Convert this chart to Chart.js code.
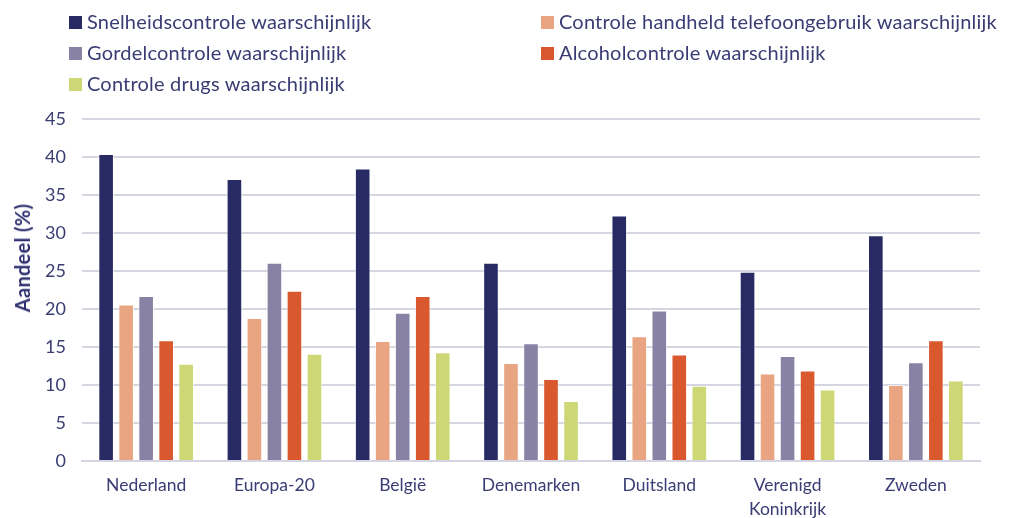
<!DOCTYPE html>
<html>
<head>
<meta charset="utf-8">
<script src="https://cdn.jsdelivr.net/npm/chart.js@4/dist/chart.umd.min.js"></script>
<style>
  html, body { margin: 0; padding: 0; background: #fff; }
  #wrap { position: relative; width: 1013px; height: 518px; }
  #chart { position: absolute; left: 0; top: 0; }
  .leg { position: absolute; font-family: "Lato", "Open Sans", sans-serif; font-size: 20px; letter-spacing: 0.2px; color: #3a3c74; white-space: nowrap; line-height: 22px; }
  .leg span.box { display: inline-block; width: 13px; height: 13px; margin-right: 5px; vertical-align: 0px; }
  #ytitle { position: absolute; left: 22px; top: 258px; transform: translate(-50%, -50%) rotate(-90deg); font-family: "Lato", "Open Sans", sans-serif; font-weight: bold; font-size: 20px; color: #2f3170; white-space: nowrap; letter-spacing: 0.3px; }
</style>
</head>
<body>
<div id="wrap">
  <canvas id="chart" width="1013" height="518"></canvas>
  <div id="legend"></div>
  <div id="ytitle"></div>
</div>
<script>
const categories = ["Nederland", "Europa-20", "België", "Denemarken", "Duitsland", ["Verenigd", "Koninkrijk"], "Zweden"];
const seriesNames = [
  "Snelheidscontrole waarschijnlijk",
  "Controle handheld telefoongebruik waarschijnlijk",
  "Gordelcontrole waarschijnlijk",
  "Alcoholcontrole waarschijnlijk",
  "Controle drugs waarschijnlijk"
];
const snelheid = [40.4, 37.1, 38.5, 26.1, 32.3, 24.9, 29.7];
const telefoon = [20.6, 18.8, 15.8, 12.9, 16.4, 11.5, 10.0];
const gordel   = [21.7, 26.1, 19.5, 15.5, 19.8, 13.8, 13.0];
const alcohol  = [15.9, 22.4, 21.7, 10.8, 14.0, 11.9, 15.9];
const drugs    = [12.8, 14.1, 14.3, 7.9, 9.9, 9.4, 10.6];
const yTicks = [0, 5, 10, 15, 20, 25, 30, 35, 40, 45];
const yTitle = "Aandeel (%)";

const colors = ["#282a64", "#e9a581", "#8883a5", "#d9582e", "#cdd775"];
const seriesData = [snelheid, telefoon, gordel, alcohol, drugs];

const datasets = seriesNames.map((name, i) => ({
  label: name,
  data: seriesData[i],
  backgroundColor: colors[i],
  borderColor: "rgba(255,255,255,0.6)",
  borderWidth: 1,
  barPercentage: 0.78,
  categoryPercentage: 0.78
}));

// HTML legend (two columns, as in the reference)
const legendPos = [
  {x: 69, y: 10}, {x: 541, y: 10},
  {x: 69, y: 41}, {x: 541, y: 41},
  {x: 69, y: 72}
];
const legendEl = document.getElementById("legend");
seriesNames.forEach((name, i) => {
  const d = document.createElement("div");
  d.className = "leg";
  d.style.left = legendPos[i].x + "px";
  d.style.top = legendPos[i].y + "px";
  d.innerHTML = '<span class="box" style="background:' + colors[i] + '"></span>' + name;
  legendEl.appendChild(d);
});
document.getElementById("ytitle").textContent = yTitle;

const textColor = "#3a3c74";
new Chart(document.getElementById("chart"), {
  type: "bar",
  data: { labels: categories, datasets },
  options: {
    responsive: false,
    animation: false,
    layout: { padding: { top: 119, right: 33, left: 0, bottom: 0 } },
    plugins: { legend: { display: false }, tooltip: { enabled: false } },
    scales: {
      x: {
        grid: { display: false, drawTicks: false },
        border: { color: "#d6d5e2", width: 2 },
        ticks: { color: textColor, font: { family: "Lato, 'Open Sans', sans-serif", size: 17.5, lineHeight: 1.4 }, padding: 12, maxRotation: 0, autoSkip: false },
        afterFit(scale) { scale.height = 57; }
      },
      y: {
        min: 0, max: 45,
        afterBuildTicks(scale) { scale.ticks = yTicks.map(v => ({ value: v })); },
        grid: { color: "#d6d5e2", lineWidth: 2, drawTicks: false },
        border: { display: false },
        ticks: { color: textColor, font: { family: "Lato, 'Open Sans', sans-serif", size: 18 }, padding: 16 },
        afterFit(scale) { scale.width = 82; }
      }
    }
  }
});
</script>
</body>
</html>
